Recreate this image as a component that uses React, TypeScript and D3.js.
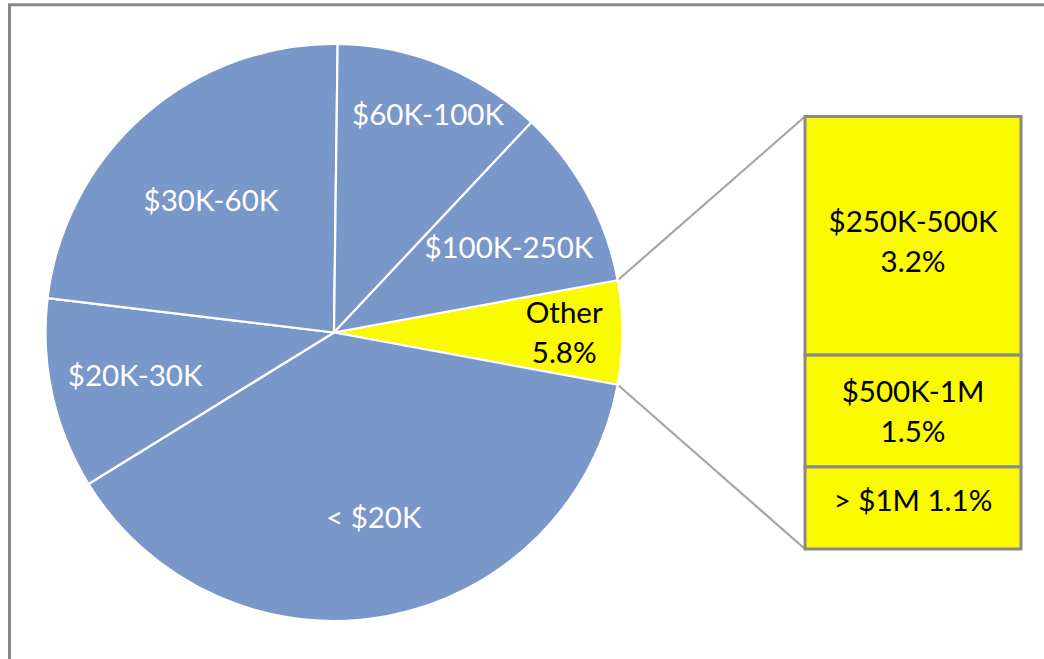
import React from 'react';
import * as d3 from 'd3';

// ---- data ----
const categories = ['Other', '< $20K', '$20K-30K', '$30K-60K', '$60K-100K', '$100K-250K'];
const shares = [5.8, 38.3, 10.7, 23.3, 11.8, 10.1];
const otherCategories = ['$250K-500K', '$500K-1M', '> $1M'];
const otherShares = [3.2, 1.5, 1.1];

// ---- layout / style ----
const W = 1044;
const H = 659;
const cx = 334;
const cy = 332.5;
const R = 288.5;
// label radius (fraction of R) and angle nudge (degrees), per slice
const labelFactor: Record<string, number> = {
  'Other': 0.798,
  '< $20K': 0.656,
  '$20K-30K': 0.705,
  '$30K-60K': 0.624,
  '$60K-100K': 0.822,
  '$100K-250K': 0.674,
};
const labelNudge: Record<string, number> = {
  'Other': 0,
  '< $20K': -1.5,
  '$20K-30K': 0.3,
  '$30K-60K': -1.9,
  '$60K-100K': 1.4,
  '$100K-250K': 2.7,
};
const barLabelNudge: Record<string, number> = {
  '$250K-500K': 6,
  '$500K-1M': 0.5,
  '> $1M': -7.5,
};
const BLUE = '#7997C9';
const YELLOW = '#FAFA00';
const FONT = 'Lato, "Open Sans", sans-serif';
const FS = 29.5;
const LINE = 40;
const box = { x0: 805, x1: 1021, y0: 116.5, y1: 549 };

export default function App() {
  const data = categories.map((c, i) => ({ name: c, value: shares[i] }));
  const total = d3.sum(shares);
  const otherIdx = 0;
  const half = (shares[otherIdx] / total) * Math.PI;
  const start = Math.PI / 2 - half;
  const pie = d3
    .pie<{ name: string; value: number }>()
    .sort(null)
    .value((d) => d.value)
    .startAngle(start)
    .endAngle(start + 2 * Math.PI);
  const arcs = pie(data);
  const arcGen = d3.arc<d3.PieArcDatum<{ name: string; value: number }>>().innerRadius(0).outerRadius(R);

  const other = arcs[otherIdx];
  const pt = (a: number): [number, number] => [cx + R * Math.sin(a), cy - R * Math.cos(a)];
  const pTop = pt(other.startAngle);
  const pBot = pt(other.endAngle);

  const otherSum = d3.sum(otherShares);
  const yScale = d3.scaleLinear().domain([0, otherSum]).range([box.y0, box.y1]);
  let acc = 0;
  const segs = otherCategories.map((c, i) => {
    const s = { name: c, value: otherShares[i], y0: yScale(acc), y1: yScale(acc + otherShares[i]) };
    acc += otherShares[i];
    return s;
  });

  const segLines = (name: string, v: number): string[] =>
    name === '> $1M' ? [`${name} ${v}%`] : [name, `${v}%`];

  return (
    <svg
      width={W}
      height={H}
      style={{ position: 'absolute', left: 0, top: 0, background: '#fff' }}
      fontFamily={FONT}
    >
      <rect x={9.5} y={4.8} width={1200} height={800} fill="#fff" stroke="#878787" strokeWidth={3} />

      {/* connectors */}
      <line x1={pTop[0]} y1={pTop[1]} x2={box.x0} y2={box.y0} stroke="#A5A5A5" strokeWidth={2.2} />
      <line x1={pBot[0]} y1={pBot[1]} x2={box.x0} y2={box.y1} stroke="#A5A5A5" strokeWidth={2.2} />

      <g transform={`translate(${cx},${cy})`}>
        {arcs.map((a, i) => (
          <path
            key={a.data.name}
            d={arcGen(a) || ''}
            fill={i === otherIdx ? YELLOW : BLUE}
            stroke="#fff"
            strokeWidth={2.2}
            strokeLinejoin="round"
          />
        ))}
        {arcs.map((a, i) => {
          const k = labelFactor[a.data.name] ?? 0.65;
          const mid = (a.startAngle + a.endAngle) / 2 + ((labelNudge[a.data.name] ?? 0) * Math.PI) / 180;
          const x = R * k * Math.sin(mid);
          const y = -R * k * Math.cos(mid);
          const lines = i === otherIdx ? [a.data.name, `${a.data.value}%`] : [a.data.name];
          const y0 = y - ((lines.length - 1) * LINE) / 2;
          return (
            <text
              key={'l' + a.data.name}
              textAnchor="middle"
              fontSize={FS}
              fill={i === otherIdx ? '#000' : '#fff'}
            >
              {lines.map((t, j) => (
                <tspan key={j} x={x} y={y0 + j * LINE} dy="0.35em">
                  {t}
                </tspan>
              ))}
            </text>
          );
        })}
      </g>

      {segs.map((s) => (
        <rect
          key={'r' + s.name}
          x={box.x0}
          y={s.y0}
          width={box.x1 - box.x0}
          height={s.y1 - s.y0}
          fill={YELLOW}
          stroke="#898989"
          strokeWidth={3}
        />
      ))}
      {segs.map((s) => {
        const lines = segLines(s.name, s.value);
        const mx = (box.x0 + box.x1) / 2;
        const my = (s.y0 + s.y1) / 2 + (barLabelNudge[s.name] ?? 0);
        const ly0 = my - ((lines.length - 1) * LINE) / 2;
        return (
          <text key={'t' + s.name} textAnchor="middle" fontSize={FS} fill="#000">
            {lines.map((t, j) => (
              <tspan key={j} x={mx} y={ly0 + j * LINE} dy="0.35em">
                {t}
              </tspan>
            ))}
          </text>
        );
      })}
    </svg>
  );
}
